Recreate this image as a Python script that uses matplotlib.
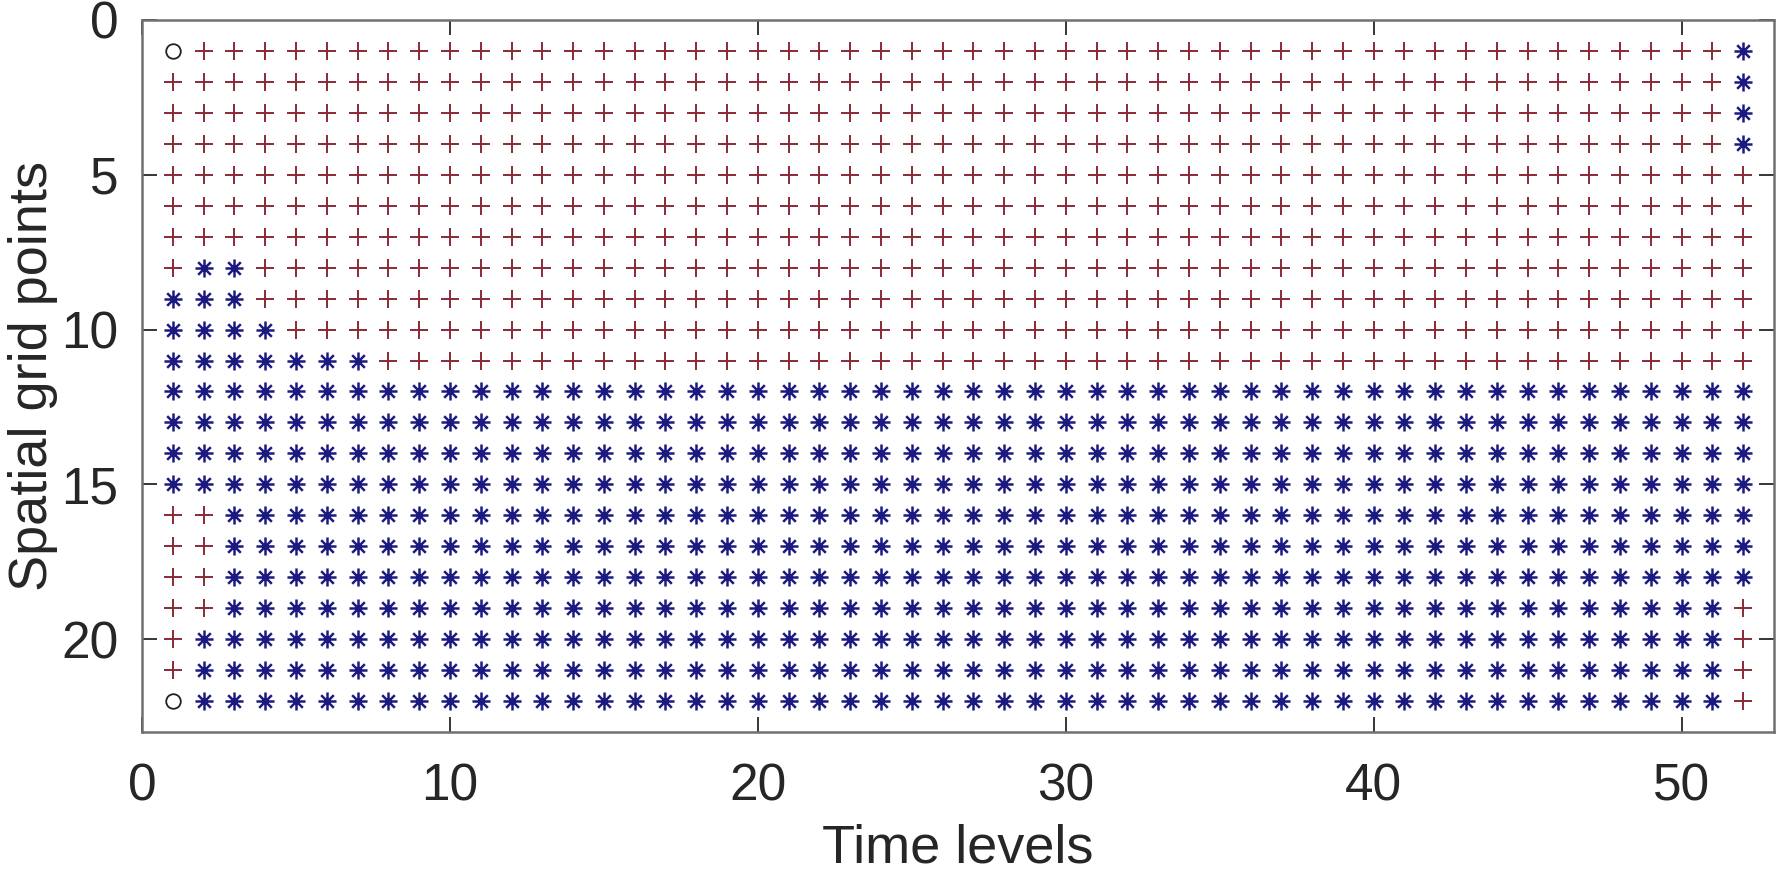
import numpy as np
import matplotlib
matplotlib.use("Agg")
import matplotlib.pyplot as plt
from matplotlib.path import Path

plt.rcParams['font.family'] = ['Liberation Sans', 'DejaVu Sans']

# marker type at each (time level, grid point): one string per spatial row, one char per time level
# 'o' = boundary/initial, '+' = one state, '*' = other state
rows = [
    "o++++++++++++++++++++++++++++++++++++++++++++++++++*",  # 1
    "+++++++++++++++++++++++++++++++++++++++++++++++++++*",  # 2
    "+++++++++++++++++++++++++++++++++++++++++++++++++++*",  # 3
    "+++++++++++++++++++++++++++++++++++++++++++++++++++*",  # 4
    "++++++++++++++++++++++++++++++++++++++++++++++++++++",  # 5
    "++++++++++++++++++++++++++++++++++++++++++++++++++++",  # 6
    "++++++++++++++++++++++++++++++++++++++++++++++++++++",  # 7
    "+**+++++++++++++++++++++++++++++++++++++++++++++++++",  # 8
    "***+++++++++++++++++++++++++++++++++++++++++++++++++",  # 9
    "****++++++++++++++++++++++++++++++++++++++++++++++++",  # 10
    "*******+++++++++++++++++++++++++++++++++++++++++++++",  # 11
    "****************************************************",  # 12
    "****************************************************",  # 13
    "****************************************************",  # 14
    "****************************************************",  # 15
    "++**************************************************",  # 16
    "++**************************************************",  # 17
    "++**************************************************",  # 18
    "++*************************************************+",  # 19
    "+**************************************************+",  # 20
    "+**************************************************+",  # 21
    "o**************************************************+",  # 22
]

xticks = [0, 10, 20, 30, 40, 50]
yticks = [0, 5, 10, 15, 20]

grid = np.array([list(r) for r in rows])
yy, xx = np.indices(grid.shape)
xx = xx + 1
yy = yy + 1

# MATLAB-style asterisk (8 spokes) instead of matplotlib's filled star
spokes = [(0, -1), (0, 1), (-1, 0), (1, 0), (-0.7, -0.7), (0.7, 0.7), (-0.7, 0.7), (0.7, -0.7)]
star = Path(spokes, [Path.MOVETO, Path.LINETO] * 4)

W, H = 1779, 874
fig = plt.figure(figsize=(W / 100, H / 100), dpi=100)
ax = fig.add_axes([142 / W, 1 - 732 / H, (1774 - 142) / W, (732 - 20) / H])

m = grid == '+'
ax.plot(xx[m], yy[m], '+', color='#8a2a35', markersize=13, markeredgewidth=1.4, linestyle='none')
m = grid == '*'
ax.plot(xx[m], yy[m], marker=star, color='#1c1a80', markersize=13, markeredgewidth=1.8, linestyle='none')
m = grid == 'o'
ax.plot(xx[m], yy[m], 'o', markerfacecolor='none', markeredgecolor='#222222', markersize=10.5, markeredgewidth=1.3, linestyle='none')

ax.set_xlim(0, 53)
ax.set_ylim(23, 0)
ax.set_xticks(xticks)
ax.set_yticks(yticks)
ax.tick_params(direction='in', length=11, width=1.3, top=True, right=True,
               labelsize=37, colors='#262626')
ax.tick_params(axis='x', pad=22)
ax.tick_params(axis='y', pad=17)
for s in ax.spines.values():
    s.set_color('#707070')
    s.set_linewidth(1.8)
ax.set_xlabel('Time levels', fontsize=39, color='#262626', va='center')
ax.set_ylabel('Spatial grid points', fontsize=39, color='#262626', va='center')
ax.xaxis.set_label_coords(0.5, -0.163)
ax.yaxis.set_label_coords(-0.067, 0.5)

fig.savefig('out.png', dpi=100)
